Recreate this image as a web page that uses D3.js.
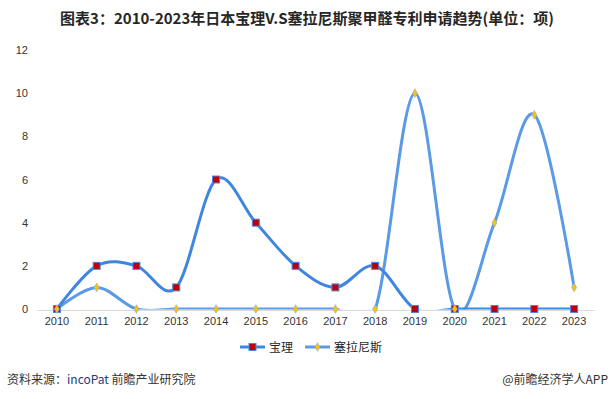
<!DOCTYPE html>
<html><head><meta charset="utf-8">
<script src="https://cdn.jsdelivr.net/npm/d3@7"></script>
<style>body{margin:0;background:#fff;}svg{display:block;font-family:"Noto Sans CJK SC","Noto Sans",sans-serif;}</style>
</head><body><svg id="c" width="614" height="399"></svg>
<script>
const years = ["2010","2011","2012","2013","2014","2015","2016","2017","2018","2019","2020","2021","2022","2023"];
const baoli = [0,2,2,1,6,4,2,1,2,0,0,0,0,0];
const celanese = [0,1,0,0,0,0,0,0,0,10,0,4,9,1];
const yTicks = [0,2,4,6,8,10,12];
const seriesNames = ["宝理","塞拉尼斯"];

const svg = d3.select("#c");
svg.append("defs").append("clipPath").attr("id","plot")
  .append("rect").attr("x",30).attr("y",30).attr("width",580).attr("height",279.6);

svg.append("text").attr("x",307).attr("y",24).attr("text-anchor","middle")
  .attr("font-size",15).attr("font-weight","bold").attr("fill","#262626")
  .text("图表3：2010-2023年日本宝理V.S塞拉尼斯聚甲醛专利申请趋势(单位：项)");

const x = d3.scaleBand().domain(years).range([37,594]);
const y = d3.scaleLinear().domain([0,12]).range([309,50]);

// y labels
svg.append("g").selectAll("text").data(yTicks).join("text")
  .attr("x",28).attr("y",d=>y(d)+4).attr("text-anchor","end")
  .attr("font-size",11).attr("fill","#333").attr("font-family","Liberation Sans, Arial, sans-serif").text(d=>d);

// x axis
const xa = svg.append("g").attr("transform","translate(0,310)")
  .call(d3.axisBottom(x).tickSize(0).tickPadding(7));
xa.select(".domain").attr("stroke","#d9d9d9").attr("stroke-width",1);
xa.selectAll("text").attr("font-size",11).attr("fill","#333").attr("font-family","Liberation Sans, Arial, sans-serif");

const cx = d => x(d)+x.bandwidth()/2;
const line = d3.line().curve(d3.curveCardinal.tension(0)).x((d,i)=>cx(years[i])).y(d=>y(d));

const lines = svg.append("g").attr("clip-path","url(#plot)");
// celanese line
lines.append("path").datum(celanese).attr("d",line).attr("fill","none")
  .attr("stroke","#5A9AE6").attr("stroke-width",3);
// baoli line
lines.append("path").datum(baoli).attr("d",line).attr("fill","none")
  .attr("stroke","#3E86DF").attr("stroke-width",3);

// markers baoli
svg.append("g").selectAll("rect").data(baoli).join("rect")
  .attr("x",(d,i)=>cx(years[i])-3.5).attr("y",d=>y(d)-3.5).attr("width",7).attr("height",7)
  .attr("fill","#C00000").attr("stroke","#4A86E8").attr("stroke-width",1);
// markers celanese
const dia = d3.symbol().type(d3.symbolDiamond).size(22);
svg.append("g").selectAll("path").data(celanese).join("path")
  .attr("transform",(d,i)=>`translate(${cx(years[i])},${y(d)})`).attr("d",dia)
  .attr("fill","#FFC000").attr("stroke","#7FB0EE").attr("stroke-width",0.6);

// legend
const lg = svg.append("g");
lg.append("line").attr("x1",240).attr("x2",265).attr("y1",347).attr("y2",347).attr("stroke","#3E86DF").attr("stroke-width",3);
lg.append("rect").attr("x",249).attr("y",343.5).attr("width",7).attr("height",7).attr("fill","#C00000").attr("stroke","#4A86E8");
lg.append("text").attr("x",269).attr("y",352).attr("font-size",12).attr("fill","#262626").text(seriesNames[0]);
lg.append("line").attr("x1",305).attr("x2",330).attr("y1",347).attr("y2",347).attr("stroke","#5A9AE6").attr("stroke-width",3);
lg.append("path").attr("transform","translate(317.5,347)").attr("d",dia).attr("fill","#FFC000").attr("stroke","#7FB0EE").attr("stroke-width",0.6);
lg.append("text").attr("x",334).attr("y",352).attr("font-size",12).attr("fill","#262626").text(seriesNames[1]);

// footer
const f = svg.append("text").attr("x",7).attr("y",384).attr("font-size",12).attr("fill","#333");
f.append("tspan").text("资料来源：");
f.append("tspan").attr("fill","#1F3B7A").text("incoPat");
f.append("tspan").text(" 前瞻产业研究院");
svg.append("text").attr("x",608).attr("y",384).attr("text-anchor","end").attr("font-size",12).attr("fill","#333").text("@前瞻经济学人APP");
</script></body></html>
